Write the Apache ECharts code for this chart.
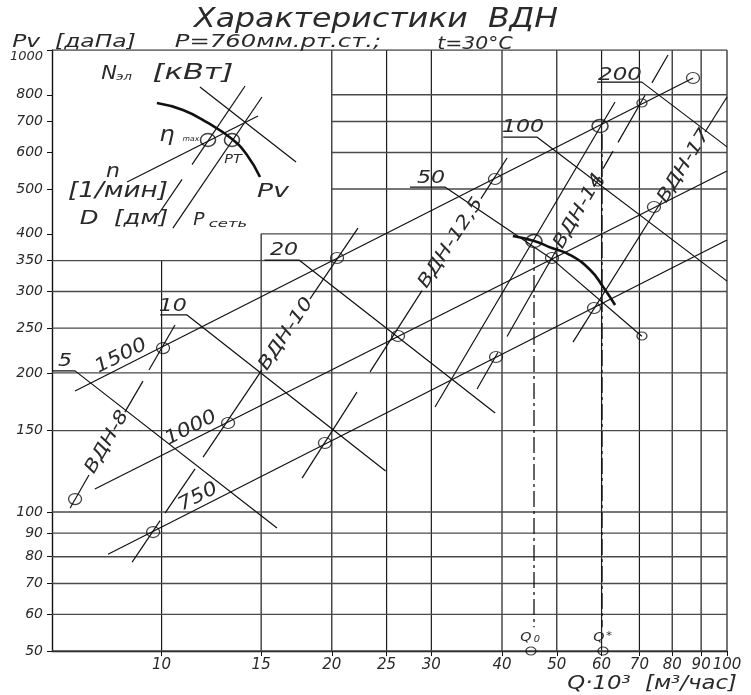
<!DOCTYPE html>
<html><head><meta charset="utf-8">
<script src="https://cdn.jsdelivr.net/npm/echarts@6/dist/echarts.min.js"></script>
<style>html,body{margin:0;padding:0;background:#fff}#c{width:751px;height:695px}</style>
</head><body><div id="c"></div>
<script>
// ---------- axes ----------
const Q_MIN = 6.4, Q_MAX = 100, P_MIN = 50, P_MAX = 1000;
const qTicks = [10, 15, 20, 25, 30, 40, 50, 60, 70, 80, 90, 100];
const qGridTop = [350, 400, 1000, 1000, 1000, 1000, 1000, 1000, 1000, 1000, 1000, 1000];
const pTicks = [50, 60, 70, 80, 90, 100, 150, 200, 250, 300, 350, 400, 500, 600, 700, 800, 1000];
const pGridFrom = [6.4, 6.4, 6.4, 6.4, 6.4, 6.4, 6.4, 6.4, 6.4, 6.4, 6.4, 15, 20, 20, 20, 20, 6.4];

// ---------- iso-speed lines n [1/мин] ----------
const n1500Q = [7.03, 87.1],  n1500P = [182.7, 869.8];
const n1000Q = [7.62, 100],   n1000P = [112.1, 547.1];
const n750Q  = [8.04, 100],   n750P  = [81.0, 388];

// ---------- iso-power lines N [кВт] (label underline + line) ----------
const N5Q   = [6.4, 7.03, 16.0],          N5P   = [202, 202, 92.3];
const N10Q  = [9.94, 11.09, 24.9],        N10P  = [267, 267, 122.6];
const N20Q  = [15.2, 17.5, 38.9],         N20P  = [351, 351, 163.8];
const N50Q  = [27.5, 31.7, 49.0, 70.7],   N50P  = [505, 505, 353, 240];
const N100Q = [40.2, 46.1, 100],          N100P = [648, 648, 316];
const N200Q = [58.9, 70.7, 100],          N200P = [852, 852, 617];

// ---------- fan size lines ВДН (null = break for a label / gap) ----------
const vdn8Q   = [6.89, 7.44, null, 8.61, 9.27, null, 9.50, 10.56];
const vdn8P   = [102.0, 120.2, null, 164.5, 192.0, null, 202.9, 253.9];
const vdn10Q  = [8.87, 9.94, null, 10.14, 11.46, null, 11.84, 15.05, null, 18.30, 22.25];
const vdn10P  = [77.9, 95.8, null, 99.4, 123.9, null, 131.4, 203.0, null, 289.2, 411.7];
const vdn125Q = [17.72, 22.16, null, 23.37, 28.88, null, 36.72, 40.83];
const vdn125P = [118.4, 181.7, null, 201.0, 301.3, null, 476.7, 583.7];
const vdn14Q  = [36.14, 39.36, null, 40.83, 50.24, null, 60.36, 62.86, null, 64.16, 71.61, null, 73.66, 78.64];
const vdn14P  = [184.5, 221.6, null, 239.7, 374.0, null, 553.7, 604.2, null, 630.9, 798.2, null, 848.7, 975.4];
const vdn17Q  = [53.41, 76.74, null, 91.43, 100];
const vdn17P  = [233.2, 472.4, null, 664.4, 791.0];

// ---------- network line and fan characteristic ----------
const netQ = [30.45, 63.38], netP = [168.7, 771.7];
const charQ = [41.8, 45.6, 49.0, 52.8, 57.3, 60.4, 63.4];
const charP = [395.6, 385.9, 372.7, 359.9, 334.0, 306.9, 280.5];

// ---------- Q0 / Q* dash-dot verticals ----------
const q0Q = [45.57, 45.57],   q0P = [372.7, 56.3];
const qsQ = [60.11, 60.11],   qsP = [657.9, 56.3];

// ---------- circles ----------
const ptQ = [7.03, 10.06, 9.66, 13.11, 20.43, 19.45, 26.19, 38.88, 39.04, 58.19, 74.27, 87.07, 49.03];
const ptP = [106.6, 226.3, 90.45, 155.8, 354.5, 141.0, 240.3, 525.7, 216.4, 276.4, 457.1, 869.8, 354.5];
const bigQ = [45.57, 59.63], bigP = [385.9, 684.6];
const smallQ = [70.72, 70.72, 59.14, 45.0, 60.36], smallP = [767.8, 240.3, 517.9, 50, 50];

// ---------- key (schematic in the upper-left box) ----------
const keyCurveQ = [9.81, 10.91, 12.08, 13.32, 14.16, 14.93];
const keyCurveP = [767.8, 741.5, 695.0, 641.8, 592.5, 530.9];
const keyNQ = [8.69, 14.81],   keyNP = [517.9, 719.7];
const keyDQ = [9.85, 10.87, null, 11.32, 14.05], keyDP = [439.3, 524.7, null, 564.8, 835.6];
const keyNetQ = [10.47, 15.05], keyNetP = [411.7, 791.0];
const keyPowQ = [11.69, 17.29], keyPowP = [831.5, 572.1];
const keyPtQ = [12.08, 13.32],  keyPtP = [638.6, 638.6];

// ======================================================
const FONT = '"DejaVu Sans", "Liberation Sans", sans-serif';
const INK = '#111';
const TXT = '#2a2a2a';
const series = [];
function splitSegs(qs, ps) {
  const segs = []; let cur = [];
  for (let i = 0; i < qs.length; i++) {
    if (qs[i] === null) { if (cur.length) segs.push(cur); cur = []; }
    else cur.push([qs[i], ps[i]]);
  }
  if (cur.length) segs.push(cur);
  return segs;
}
function addLine(qs, ps, style, extra) {
  splitSegs(qs, ps).forEach(d => series.push(Object.assign({
    type: 'line', data: d, symbol: 'none', showSymbol: false, silent: true, animation: false,
    lineStyle: Object.assign({ color: INK, width: 1.2 }, style), z: 3
  }, extra || {})));
}
function addPoints(qs, ps, size, bw) {
  series.push({
    type: 'scatter', data: qs.map((q, i) => [q, ps[i]]), symbol: 'circle', symbolSize: size,
    itemStyle: { color: 'rgba(255,255,255,0)', borderColor: INK, borderWidth: bw || 1.2 },
    silent: true, animation: false, z: 5
  });
}

// grid
qTicks.forEach((q, i) => addLine([q, q], [P_MIN, qGridTop[i]], { color: '#1c1c1c', width: 1.2 }, { z: 1 }));
pTicks.forEach((p, i) => addLine([pGridFrom[i], Q_MAX], [p, p], { color: '#4a4a4a', width: 1.4 }, { z: 1 }));

// lines
[[n1500Q, n1500P], [n1000Q, n1000P], [n750Q, n750P],
 [N5Q, N5P], [N10Q, N10P], [N20Q, N20P], [N50Q, N50P], [N100Q, N100P], [N200Q, N200P],
 [vdn8Q, vdn8P], [vdn10Q, vdn10P], [vdn125Q, vdn125P], [vdn14Q, vdn14P], [vdn17Q, vdn17P],
 [netQ, netP], [keyNQ, keyNP], [keyDQ, keyDP], [keyNetQ, keyNetP], [keyPowQ, keyPowP]
].forEach(a => addLine(a[0], a[1], {}));
addLine(charQ, charP, { width: 2.6 }, { smooth: true });
addLine(keyCurveQ, keyCurveP, { width: 2.6 }, { smooth: true });
addLine(q0Q, q0P, { width: 1.3, type: [16, 4, 3, 4] });
addLine(qsQ, qsP, { width: 1.3, type: [16, 4, 3, 4] });

// circles
addPoints(ptQ, ptP, [13, 11]);
addPoints(bigQ, bigP, [16, 13], 1.5);
addPoints(smallQ, smallP, [10, 8]);
addPoints(keyPtQ, keyPtP, [15, 13], 1.5);

const chart = echarts.init(document.getElementById('c'), null, { renderer: 'canvas' });
const lblStyle = { fontFamily: FONT, fontStyle: 'italic', fontWeight: 200, color: TXT };
chart.setOption({
  animation: false,
  backgroundColor: '#fff',
  grid: { left: 52, right: 24, top: 50, bottom: 44, containLabel: false, outerBoundsMode: 'none' },
  xAxis: {
    type: 'log', logBase: 10, min: Q_MIN, max: Q_MAX,
    axisLine: { show: true, lineStyle: { color: INK, width: 1.4 } },
    axisTick: { show: true, inside: false, length: 5, customValues: qTicks, lineStyle: { color: INK } },
    axisLabel: Object.assign({ customValues: qTicks, margin: 7, fontSize: 15,
      formatter: v => String(Math.round(v)) }, lblStyle),
    splitLine: { show: false }, minorTick: { show: false }, minorSplitLine: { show: false }
  },
  yAxis: {
    type: 'log', logBase: 10, min: P_MIN, max: P_MAX,
    axisLine: { show: true, lineStyle: { color: INK, width: 1.4 } },
    axisTick: { show: true, inside: false, length: 5, customValues: pTicks, lineStyle: { color: INK } },
    axisLabel: Object.assign({ customValues: pTicks, margin: 9, fontSize: 14,
      formatter: v => Math.round(v) === 1000 ? '{top|1000}' : String(Math.round(v)),
      rich: { top: { fontFamily: FONT, fontStyle: 'italic', fontWeight: 200, fontSize: 13, color: TXT, padding: [13, 0, 0, 0] } }
    }, lblStyle),
    splitLine: { show: false }, minorTick: { show: false }, minorSplitLine: { show: false }
  },
  series: series
});

// ---------- text annotations ----------
// labels anchored to chart values (q, p), rotation in degrees
const lineLabels = [
  { t: '1500', q: 8.48, p: 217.5, a: 27, s: 19, sx: 1.15 },
  { t: '1000', q: 11.27, p: 151.9, a: 27, s: 19, sx: 1.15 },
  { t: '750', q: 11.60, p: 107.7, a: 27, s: 19, sx: 1.15 },
  { t: 'ВДН-8', q: 8.01, p: 141.7, a: 60, s: 18, sx: 1.2 },
  { t: 'ВДН-10', q: 16.60, p: 242.7, a: 56, s: 18, sx: 1.2 },
  { t: 'ВДН-12,5', q: 32.49, p: 382.1, a: 57, s: 18, sx: 1.2 },
  { t: 'ВДН-14', q: 54.72, p: 448.1, a: 60, s: 18, sx: 1.2 },
  { t: 'ВДН-17', q: 83.94, p: 560.9, a: 58, s: 18, sx: 1.2 },
  { t: '5', q: 6.75, p: 211.1, a: 0, s: 17, sx: 1.3 },
  { t: '10', q: 10.47, p: 277.8, a: 0, s: 17, sx: 1.3 },
  { t: '20', q: 16.46, p: 367.1, a: 0, s: 17, sx: 1.3 },
  { t: '50', q: 29.96, p: 525.7, a: 0, s: 17, sx: 1.3 },
  { t: '100', q: 43.57, p: 677.9, a: 0, s: 17, sx: 1.3 },
  { t: '200', q: 64.68, p: 878.5, a: 0, s: 17, sx: 1.35 }
];
// page annotations (titles, key texts) in page pixels
const pageTexts = [
  { t: 'Характеристики  ВДН', x: 376, y: 20, s: 27, sx: 1.17 },
  { t: 'Pv  [даПа]', x: 74, y: 42, s: 18, sx: 1.3 },
  { t: 'P=760мм.рт.ст.;', x: 278, y: 42, s: 18, sx: 1.35 },
  { t: 't=30°C', x: 475, y: 45, s: 17, sx: 1.2 },
  { t: 'Q·10³  [м³/час]', x: 652, y: 684, s: 19, sx: 1.2 },
  { t: 'N', x: 109, y: 74, s: 19, sx: 1.1 },
  { t: 'эл', x: 124, y: 77, s: 11, sx: 1.2 },
  { t: '[кВт]', x: 193, y: 74, s: 21, sx: 1.45 },
  { t: 'η', x: 167, y: 135, s: 22, sx: 1.1 },
  { t: 'max', x: 191, y: 139, s: 7, sx: 1.1 },
  { t: 'РТ', x: 233, y: 160, s: 12, sx: 1.2 },
  { t: 'n', x: 113, y: 172, s: 20, sx: 1.1 },
  { t: '[1/мин]', x: 118, y: 192, s: 21, sx: 1.25 },
  { t: 'D  [дм]', x: 124, y: 219, s: 20, sx: 1.22 },
  { t: 'Pv', x: 273, y: 192, s: 19, sx: 1.4 },
  { t: 'P', x: 199, y: 221, s: 17, sx: 1.1 },
  { t: 'сеть', x: 228, y: 224, s: 11, sx: 1.5 },
  { t: 'Q', x: 526, y: 638, s: 13, sx: 1.1 },
  { t: '0', x: 537, y: 640, s: 9, sx: 1.1 },
  { t: 'Q', x: 599, y: 638, s: 13, sx: 1.1 },
  { t: '*', x: 609, y: 636, s: 11, sx: 1.1 }
];
function textEl(t, x, y, s, sx, rotDeg) {
  return {
    type: 'text', x: x, y: y, rotation: (rotDeg || 0) * Math.PI / 180, scaleX: sx || 1,
    silent: true, z: 20,
    style: { text: t, fontSize: s, fontFamily: FONT, fontStyle: 'italic', fontWeight: 200, fill: TXT,
      textAlign: 'center', textVerticalAlign: 'middle' }
  };
}
const graphics = [];
lineLabels.forEach(l => {
  const px = chart.convertToPixel({ gridIndex: 0 }, [l.q, l.p]);
  graphics.push(textEl(l.t, px[0], px[1], l.s, l.sx, l.a));
});
pageTexts.forEach(l => graphics.push(textEl(l.t, l.x, l.y, l.s, l.sx, 0)));
chart.setOption({ graphic: graphics });
</script>
</body></html>
